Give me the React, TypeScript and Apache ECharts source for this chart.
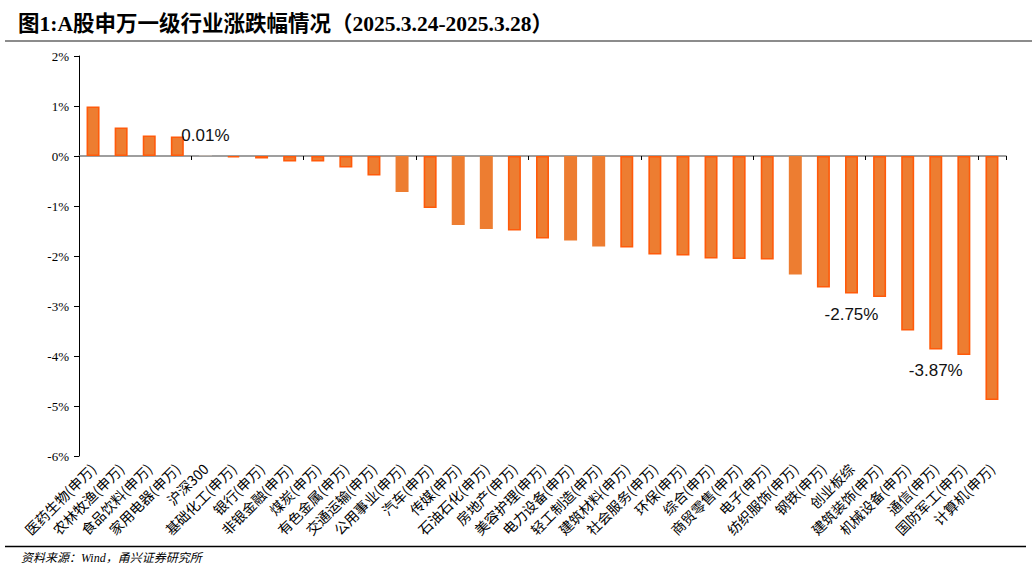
import React, { useEffect, useRef } from "react";
import * as echarts from "echarts";

const title = "图1:A股申万一级行业涨跌幅情况（2025.3.24-2025.3.28）";
const source = "资料来源：Wind，甬兴证券研究所";

const categories = [
  "医药生物(申万)", "农林牧渔(申万)", "食品饮料(申万)", "家用电器(申万)", "沪深300",
  "基础化工(申万)", "银行(申万)", "非银金融(申万)", "煤炭(申万)", "有色金属(申万)",
  "交通运输(申万)", "公用事业(申万)", "汽车(申万)", "传媒(申万)", "石油石化(申万)",
  "房地产(申万)", "美容护理(申万)", "电力设备(申万)", "轻工制造(申万)", "建筑材料(申万)",
  "社会服务(申万)", "环保(申万)", "综合(申万)", "商贸零售(申万)", "电子(申万)",
  "纺织服饰(申万)", "钢铁(申万)", "创业板综", "建筑装饰(申万)", "机械设备(申万)",
  "通信(申万)", "国防军工(申万)", "计算机(申万)",
];

const values = [
  0.99, 0.57, 0.41, 0.39, 0.01,
  -0.03, -0.05, -0.11, -0.11, -0.23,
  -0.39, -0.72, -1.04, -1.38, -1.46,
  -1.49, -1.65, -1.69, -1.81, -1.83,
  -1.97, -1.99, -2.05, -2.06, -2.07,
  -2.37, -2.63, -2.75, -2.82, -3.49,
  -3.87, -3.98, -4.88,
];

const yTicks = [-6, -5, -4, -3, -2, -1, 0, 1, 2];

// categories whose value is written on the chart
const labelled = ["沪深300", "创业板综", "通信(申万)"];
// categories drawn without the darker outline
const plain = ["沪深300", "公用事业(申万)", "传媒(申万)", "石油石化(申万)", "电力设备(申万)", "轻工制造(申万)", "纺织服饰(申万)"];

const FILL = "#ED7D31";
const EDGE = "#FF5A0A";

export default function App() {
  const ref = useRef<HTMLDivElement>(null);

  useEffect(() => {
    if (!ref.current) return;
    const chart = echarts.init(ref.current, undefined, { renderer: "svg" });

    const data = values.map((v, i) => {
      const name = categories[i];
      const isPlain = plain.includes(name);
      const isLab = labelled.includes(name);
      return {
        value: v,
        itemStyle: {
          color: name === "沪深300" ? "#d9c8bd" : FILL,
          borderColor: isPlain ? FILL : EDGE,
          borderWidth: isPlain ? 0 : 1.6,
        },
        label: {
          show: isLab,
          position: v >= 0 ? "top" : "bottom",
          distance: 12,
          formatter: (p: any) => p.value.toFixed(2) + "%",
          fontFamily: "Liberation Sans, Noto Sans, sans-serif",
          fontSize: 17,
          color: "#111",
        },
      };
    });

    chart.setOption({
      animation: false,
      backgroundColor: "#fff",
      grid: { left: 79, right: 26, top: 56, bottom: 117, containLabel: false },
      xAxis: [
        {
          type: "category",
          data: categories,
          position: "bottom",
          axisLine: { show: false, onZero: false },
          axisTick: { show: false },
          axisLabel: {
            rotate: 45,
            interval: 0,
            margin: 10,
            fontSize: 14,
            color: "#000",
            fontFamily: "Noto Sans CJK SC, Liberation Serif, serif",
          },
        },
        {
          type: "category",
          data: categories,
          position: "top",
          axisLine: { show: true, onZero: true, lineStyle: { color: "#7f7f7f", width: 1.5 } },
          axisTick: { show: true, inside: true, length: 4, lineStyle: { color: "#000", width: 1 } },
          axisLabel: { show: false },
          splitLine: { show: false },
        },
      ],
      yAxis: {
        type: "value",
        min: yTicks[0],
        max: yTicks[yTicks.length - 1],
        interval: 1,
        axisLine: { show: true, lineStyle: { color: "#000", width: 1 } },
        axisTick: { show: true, length: 5, lineStyle: { color: "#000" } },
        splitLine: { show: false },
        axisLabel: {
          formatter: "{value}%",
          margin: 10,
          fontSize: 13,
          color: "#000",
          fontFamily: "Liberation Serif, serif",
        },
      },
      series: [
        {
          type: "bar",
          xAxisIndex: 0,
          barWidth: 13,
          data,
        },
      ],
      graphic: [
        {
          type: "text",
          left: 18,
          top: 13,
          style: {
            text: title,
            font: "bold 21.5px 'Liberation Serif', 'Noto Sans CJK SC', serif",
            fill: "#000",
          },
        },
        {
          type: "line",
          shape: { x1: 5, y1: 41, x2: 1032, y2: 41 },
          style: { stroke: "#8c8c8c", lineWidth: 2 },
        },
        {
          type: "line",
          shape: { x1: 5, y1: 546.5, x2: 1026, y2: 546.5 },
          style: { stroke: "#000", lineWidth: 1.5 },
        },
        {
          type: "text",
          left: 21,
          top: 552,
          style: {
            text: source,
            font: "italic 12px 'Liberation Serif', 'Noto Sans CJK SC', serif",
            fill: "#000",
          },
        },
      ],
    });

    return () => chart.dispose();
  }, []);

  return (
    <div
      ref={ref}
      style={{ position: "fixed", left: 0, top: 0, width: 1032, height: 573 }}
    />
  );
}
